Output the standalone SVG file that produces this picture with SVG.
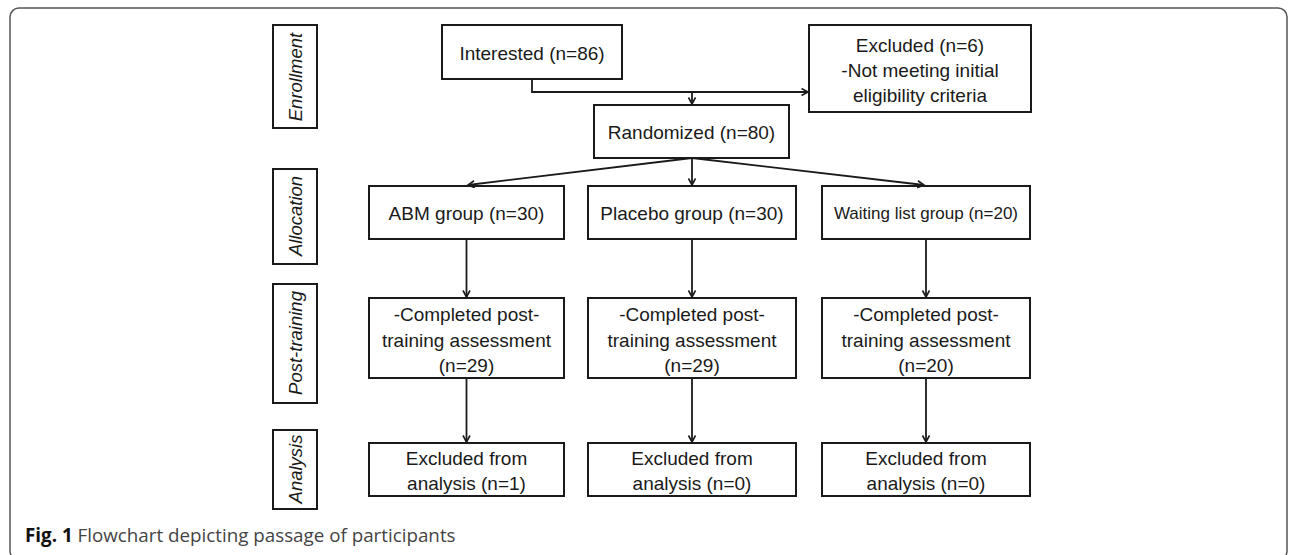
<svg xmlns="http://www.w3.org/2000/svg" width="1292" height="555" viewBox="0 0 1292 555">
<style>
.box{fill:#fff;stroke:#1a1a1a;stroke-width:2}
.t{font-family:"Liberation Sans",Arial,sans-serif;font-size:19px;fill:#1a1a1a;text-anchor:middle}
.s{font-size:17px}
.v{font-family:"Liberation Sans",Arial,sans-serif;font-size:18.5px;font-style:italic;fill:#1a1a1a;text-anchor:middle}
.c{fill:none;stroke:#1a1a1a;stroke-width:1.8}
</style>
<defs>
<marker id="ah" markerUnits="userSpaceOnUse" markerWidth="10" markerHeight="10" refX="7" refY="4" orient="auto">
<path d="M0.5,0.5 L7,4 L0.5,7.5" fill="none" stroke="#1a1a1a" stroke-width="1.6"/>
</marker>
</defs>
<rect x="10" y="8" width="1277" height="552" rx="9" fill="#fff" stroke="#555" stroke-width="1.5"/>
<g id="label-enrollment"><rect class="box" x="273" y="25" width="44" height="103"/><text class="v" transform="translate(302,77) rotate(-90)">Enrollment</text></g>
<g id="label-allocation"><rect class="box" x="273" y="169" width="44" height="95"/><text class="v" transform="translate(302,216) rotate(-90)">Allocation</text></g>
<g id="label-posttraining"><rect class="box" x="273" y="284" width="44" height="119"/><text class="v" transform="translate(302,343) rotate(-90)">Post-training</text></g>
<g id="label-analysis"><rect class="box" x="273" y="430" width="44" height="79"/><text class="v" transform="translate(302,469) rotate(-90)">Analysis</text></g>
<g id="interested"><rect class="box" x="442" y="25" width="180" height="54"/><text class="t" x="532" y="60">Interested (n=86)</text></g>
<g id="excluded"><rect class="box" x="809" y="25" width="222" height="87"/><text class="t" x="920" y="52">Excluded (n=6)</text><text class="t" x="920" y="77">-Not meeting initial</text><text class="t" x="920" y="102">eligibility criteria</text></g>
<g id="randomized"><rect class="box" x="594" y="105" width="195" height="53"/><text class="t" x="691.5" y="139">Randomized (n=80)</text></g>
<g id="abm"><rect class="box" x="369" y="186" width="195" height="53"/><text class="t" x="466.5" y="220">ABM group (n=30)</text></g>
<g id="placebo"><rect class="box" x="588" y="186" width="208" height="53"/><text class="t" x="692" y="220">Placebo group (n=30)</text></g>
<g id="waiting"><rect class="box" x="822" y="186" width="208" height="53"/><text class="t s" x="926" y="219">Waiting list group (n=20)</text></g>
<g id="post-abm"><rect class="box" x="369" y="298" width="195" height="80"/><text class="t" x="466.5" y="321">-Completed post-</text><text class="t" x="466.5" y="347">training assessment</text><text class="t" x="466.5" y="372">(n=29)</text></g>
<g id="post-placebo"><rect class="box" x="588" y="298" width="208" height="80"/><text class="t" x="692" y="321">-Completed post-</text><text class="t" x="692" y="347">training assessment</text><text class="t" x="692" y="372">(n=29)</text></g>
<g id="post-waiting"><rect class="box" x="822" y="298" width="208" height="80"/><text class="t" x="926" y="321">-Completed post-</text><text class="t" x="926" y="347">training assessment</text><text class="t" x="926" y="372">(n=20)</text></g>
<g id="an-abm"><rect class="box" x="369" y="443" width="195" height="53"/><text class="t" x="466.5" y="465">Excluded from</text><text class="t" x="466.5" y="490">analysis (n=1)</text></g>
<g id="an-placebo"><rect class="box" x="588" y="443" width="208" height="53"/><text class="t" x="692" y="465">Excluded from</text><text class="t" x="692" y="490">analysis (n=0)</text></g>
<g id="an-waiting"><rect class="box" x="822" y="443" width="208" height="53"/><text class="t" x="926" y="465">Excluded from</text><text class="t" x="926" y="490">analysis (n=0)</text></g>
<g id="connectors">
<path class="c" d="M532,79 V92 H808" marker-end="url(#ah)"/>
<path class="c" d="M692,92 V104" marker-end="url(#ah)"/>
<path class="c" d="M692,158 L468,185" marker-end="url(#ah)"/>
<path class="c" d="M692,158 V185" marker-end="url(#ah)"/>
<path class="c" d="M692,158 L924,185" marker-end="url(#ah)"/>
<path class="c" d="M466.5,239 V297" marker-end="url(#ah)"/>
<path class="c" d="M692,239 V297" marker-end="url(#ah)"/>
<path class="c" d="M926,239 V297" marker-end="url(#ah)"/>
<path class="c" d="M466.5,378 V442" marker-end="url(#ah)"/>
<path class="c" d="M692,378 V442" marker-end="url(#ah)"/>
<path class="c" d="M926,378 V442" marker-end="url(#ah)"/>
</g>
<text x="25" y="542" font-family="'Open Sans','Liberation Sans',sans-serif" font-size="18.8" fill="#444"><tspan font-weight="bold" fill="#111">Fig. 1</tspan> Flowchart depicting passage of participants</text>
</svg>
